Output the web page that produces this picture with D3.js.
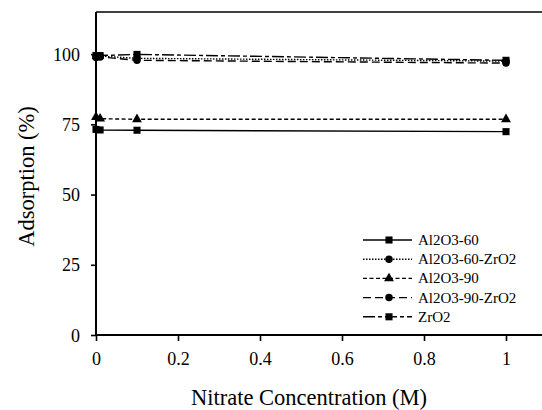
<!DOCTYPE html>
<html>
<head>
<meta charset="utf-8">
<script src="https://cdn.jsdelivr.net/npm/d3@7"></script>
</head>
<body style="margin:0">
<svg id="chart" width="542" height="410"></svg>
<script>
// Nitrate concentration (M) at which adsorption was measured
const concentrations = [0, 0.01, 0.1, 1];

// Adsorption (%) per adsorbent
const al2o3_60       = [73.2, 73.0, 72.9, 72.4];
const al2o3_60_zro2  = [99.2, 99.3, 98.5, 97.5];
const al2o3_90       = [77.6, 77.0, 76.8, 76.8];
const al2o3_90_zro2  = [98.8, 99.0, 97.8, 96.8];
const zro2           = [99.5, 99.5, 99.9, 97.8];

const seriesNames = ["Al2O3-60", "Al2O3-60-ZrO2", "Al2O3-90", "Al2O3-90-ZrO2", "ZrO2"];
const seriesValues = [al2o3_60, al2o3_60_zro2, al2o3_90, al2o3_90_zro2, zro2];
const seriesMarkers = ["square", "circle", "triangle", "circle", "square"];
const seriesDashes = [null, "1.5,1.5", "4,2.5", "8,4", "12,3,4,3"];

const xTicks = [0, 0.2, 0.4, 0.6, 0.8, 1];
const yTicks = [0, 25, 50, 75, 100];

const SERIF = "Liberation Serif";
const svg = d3.select("#chart");

const x = d3.scaleLinear().domain([0, 1.1]).range([96, 547]);
const y = d3.scaleLinear().domain([0, 115]).range([335, 12]);

// frame: top border (right side runs off the canvas)
svg.append("line")
  .attr("x1", x(0)).attr("x2", x(1.1))
  .attr("y1", y(115)).attr("y2", y(115))
  .attr("stroke", "#000").attr("stroke-width", 1.6);

// axes
const xAxis = svg.append("g")
  .attr("transform", `translate(0,${y(0)})`)
  .call(d3.axisBottom(x).tickValues(xTicks).tickSize(6).tickPadding(11)
    .tickFormat(d => d3.format("")(d)));
const yAxis = svg.append("g")
  .attr("transform", `translate(${x(0)},0)`)
  .call(d3.axisLeft(y).tickValues(yTicks).tickSize(5).tickPadding(11));

[xAxis, yAxis].forEach(g => {
  g.attr("font-family", SERIF).attr("font-size", 18);
  g.select(".domain").attr("stroke", "#000").attr("stroke-width", 2);
  g.selectAll(".tick line").attr("stroke", "#000").attr("stroke-width", 1.6);
  g.selectAll(".tick text")
    .style("font-family", SERIF)
    .style("font-size", "18px").attr("fill", "#000");
});
xAxis.select(".domain").attr("d", `M${x(0)},0H${x(1.1)}`);
yAxis.select(".domain").attr("d", `M0,${y(0)}V${y(115)}`);
yAxis.selectAll(".tick text").attr("dy", "0.34em");

// axis titles
svg.append("text")
  .attr("x", 309).attr("y", 405)
  .attr("text-anchor", "middle")
  .style("font-family", SERIF)
  .style("font-size", "22.5px")
  .text("Nitrate Concentration (M)");
svg.append("text")
  .attr("transform", `translate(34,${(y(0) + y(115)) / 2 + 3}) rotate(-90)`)
  .attr("text-anchor", "middle")
  .style("font-family", SERIF)
  .style("font-size", "22.5px")
  .text("Adsorption (%)");

// marker shapes
const symbolFor = { square: d3.symbolSquare, circle: d3.symbolCircle, triangle: d3.symbolTriangle };
const sizeFor = { square: 50, circle: 44, triangle: 42 };
function marker(g, kind, cx, cy) {
  g.append("path")
    .attr("d", d3.symbol(symbolFor[kind], sizeFor[kind])())
    .attr("transform", `translate(${cx},${cy})`)
    .attr("fill", "#000");
}

const line = d3.line().x(d => x(d[0])).y(d => y(d[1]));

seriesValues.forEach((vals, i) => {
  const pts = concentrations.map((c, j) => [c, vals[j]]);
  const g = svg.append("g");
  g.append("path")
    .attr("d", line(pts))
    .attr("fill", "none")
    .attr("stroke", "#000")
    .attr("stroke-width", 1.4)
    .attr("stroke-dasharray", seriesDashes[i]);
  pts.forEach(p => marker(g, seriesMarkers[i], x(p[0]), y(p[1])));
});

// legend
const legend = svg.append("g");
seriesNames.forEach((name, i) => {
  const ly = 240 + i * 19.2;
  legend.append("line")
    .attr("x1", 363).attr("x2", 412)
    .attr("y1", ly).attr("y2", ly)
    .attr("stroke", "#000").attr("stroke-width", 1.4)
    .attr("stroke-dasharray", seriesDashes[i]);
  marker(legend, seriesMarkers[i], 389, ly);
  legend.append("text")
    .attr("x", 418).attr("y", ly + 5)
    .style("font-family", SERIF)
    .style("font-size", "15px")
    .text(name);
});
</script>
</body>
</html>
